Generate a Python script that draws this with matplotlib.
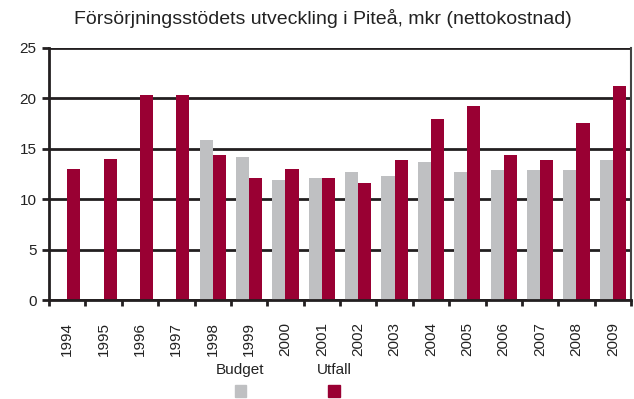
import numpy as np
import matplotlib.pyplot as plt
from matplotlib.patches import Rectangle

plt.rcParams['font.family'] = ['Liberation Sans', 'DejaVu Sans']

years = ['1994', '1995', '1996', '1997', '1998', '1999', '2000', '2001',
         '2002', '2003', '2004', '2005', '2006', '2007', '2008', '2009']
budget = [np.nan, np.nan, np.nan, np.nan, 15.9, 14.2, 11.9, 12.1,
          12.7, 12.3, 13.7, 12.7, 12.9, 12.9, 12.9, 13.9]
utfall = [13.0, 14.0, 20.3, 20.3, 14.4, 12.1, 13.0, 12.1,
          11.6, 13.9, 17.9, 19.2, 14.4, 13.9, 17.6, 21.2]

GREY = '#bfc0c2'
RED = '#990033'
LINE = '#231f20'

fig = plt.figure(figsize=(6.34, 3.99), dpi=100)
ax = fig.add_axes([0.0773, 0.248, 0.918, 0.632])

x = np.arange(len(years))
w = 0.36
ax.bar(x - w / 2, budget, w, color=GREY, zorder=3)
ax.bar(x + w / 2, utfall, w, color=RED, zorder=3)

ax.set_xlim(-0.5, len(years) - 0.5)
ax.set_ylim(0, 25)
ax.set_yticks([0, 5, 10, 15, 20, 25])
ax.yaxis.grid(True, color=LINE, linewidth=2.0, zorder=1)

# category labels at centres, tick marks at the boundaries
ax.set_xticks(x)
ax.set_xticklabels(years, rotation=90, fontsize=11, color='#222222')
ax.set_xticks(np.arange(-0.5, len(years)), minor=True)
ax.tick_params(axis='x', which='major', length=0, pad=16)
ax.tick_params(axis='x', which='minor', length=4, width=2, color=LINE)
ax.tick_params(axis='y', length=5, width=2, color=LINE, labelsize=11,
               labelcolor='#222222', pad=4)

for side in ['left', 'bottom']:
    ax.spines[side].set_color(LINE)
    ax.spines[side].set_linewidth(2.0)
    ax.spines[side].set_zorder(4)
ax.spines['right'].set_color('#444444')
ax.spines['right'].set_linewidth(1.5)
ax.spines['top'].set_visible(False)

fig.text(0.51, 0.953, 'Försörjningsstödets utveckling i Piteå, mkr (nettokostnad)',
         ha='center', va='center', fontsize=14, color='#222222')

# legend: name above its colour square
for label, color, xc in [('Budget', GREY, 0.379), ('Utfall', RED, 0.527)]:
    fig.text(xc, 0.073, label, ha='center', va='center', fontsize=11, color='#222222')
    fig.patches.append(Rectangle((xc - 0.009, 0.005), 0.018, 0.03,
                                 transform=fig.transFigure, color=color))

fig.savefig('out.png', dpi=100)
